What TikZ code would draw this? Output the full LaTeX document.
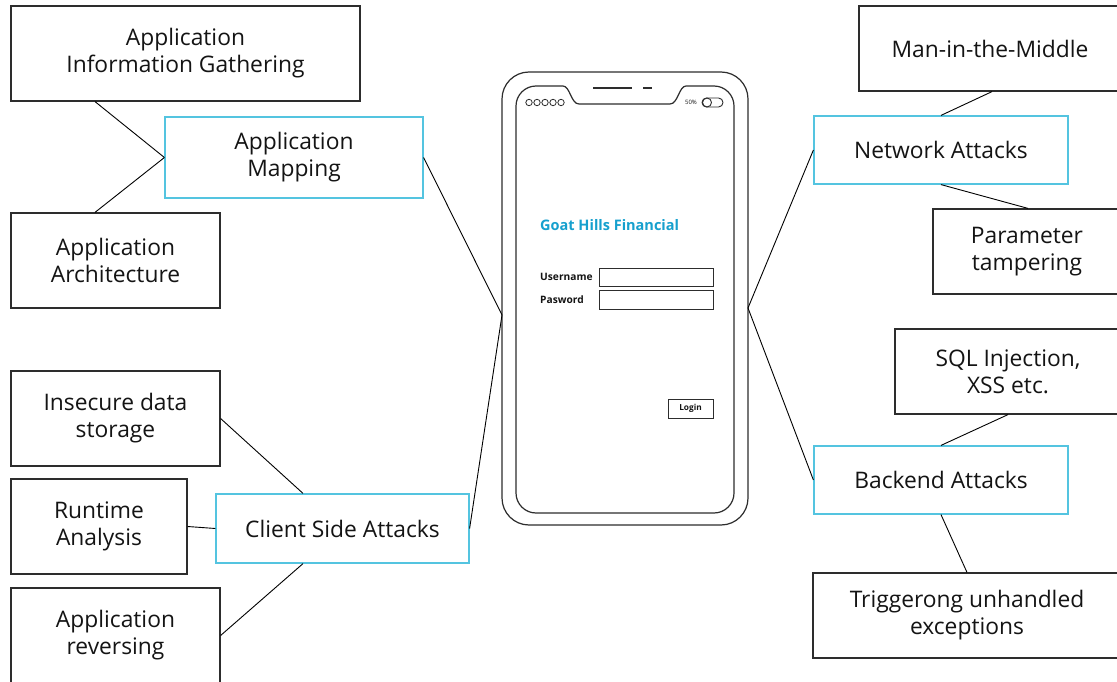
\documentclass[tikz,border=0pt]{standalone}
\usepackage{fontspec}
\setmainfont{Open Sans}
\usetikzlibrary{calc}
\definecolor{txt}{RGB}{20,20,20}
\definecolor{edge}{RGB}{45,45,45}
\definecolor{cyanbox}{RGB}{84,196,224}
\definecolor{cyantxt}{RGB}{22,160,206}
\begin{document}
\begin{tikzpicture}[x=1pt,y=-1pt,
  box/.style={draw=edge,line width=1.2pt,fill=white,text=txt,align=center,inner sep=0pt,
    font=\fontsize{22.8}{27}\selectfont},
  hub/.style={box,draw=cyanbox},
  conn/.style={draw=black,line width=0.9pt},
  phone/.style={draw=edge,line width=1.2pt},
  lbl/.style={text=txt,inner sep=0pt,font=\bfseries\fontsize{10.2}{12}\selectfont}]
\clip (0,0) rectangle (1117,682);
\fill[white] (0,0) rectangle (1117,682);

% ---------- phone ----------
\draw[phone,rounded corners=27pt] (502,72) rectangle (748,525);
\draw[phone] (516,106) .. controls (516,95) and (525,86) .. (536,86) -- (563,86)
  .. controls (570,86) and (571,104) .. (579,104) -- (670,104)
  .. controls (678,104) and (679,86) .. (686,86) -- (714,86)
  .. controls (725,86) and (734,95) .. (734,106) -- (734,493)
  .. controls (734,504) and (725,513) .. (714,513) -- (536,513)
  .. controls (525,513) and (516,504) .. (516,493) -- cycle;
\draw[phone] (593,88) -- (632,88);
\draw[phone] (643,88) -- (652,88);
\foreach \cx in {529,537,545,553,561} \draw[edge,line width=0.8pt] (\cx,102.5) circle (3.2);
\node[text=txt,inner sep=0pt,font=\fontsize{6}{7}\selectfont] (batt) at (691,102) {50\%};
\draw[edge,line width=0.9pt,rounded corners=4.5pt] (702,98) rectangle (723,107);
\draw[edge,line width=0.9pt] (707,102.5) circle (4.5);
\node[anchor=west,text=cyantxt,inner sep=0pt,font=\bfseries\fontsize{14.5}{16}\selectfont] (title) at (540,225) {Goat Hills Financial};
\node[lbl,anchor=west] (user) at (540,277) {Username};
\node[lbl,anchor=west] (pass) at (540,299.5) {Pasword};
\draw[edge,line width=1pt] (599,268) rectangle (713,286);
\draw[edge,line width=1pt] (599,290) rectangle (713,309);
\draw[edge,line width=1pt] (668,399) rectangle (713,418);
\node[lbl,font=\bfseries\fontsize{8.3}{9}\selectfont] (login) at (690.5,408.5) {Login};
\coordinate (pl) at (502,315);
\coordinate (pr) at (748,308);

% ---------- left boxes ----------
\node[box,minimum width=349pt,minimum height=95pt] (infog) at (185.5,53.5) {Application\\Information Gathering};
\node[hub,minimum width=258pt,minimum height=81pt] (mapping) at (294,157.5) {Application\\Mapping};
\node[box,minimum width=209pt,minimum height=95pt] (arch) at (115.5,260.5) {Application\\Architecture};
\node[box,minimum width=209pt,minimum height=95pt] (insecure) at (115.5,418.5) {Insecure data\\storage};
\node[box,minimum width=176pt,minimum height=95pt] (runtime) at (99,526.5) {Runtime\\Analysis};
\node[box,minimum width=209pt,minimum height=95pt] (reversing) at (115.5,635.5) {Application\\reversing};
\node[hub,minimum width=253pt,minimum height=69pt] (client) at (342.5,528.5) {Client Side Attacks};

% ---------- right boxes ----------
\node[box,minimum width=262pt,minimum height=85pt] (mitm) at (990,48.5) {Man-in-the-Middle};
\node[hub,minimum width=254pt,minimum height=68pt] (network) at (941,150) {Network Attacks};
\node[box,minimum width=188pt,minimum height=85pt] (param) at (1027,251.5) {Parameter\\tampering};
\node[box,minimum width=226pt,minimum height=85pt] (sql) at (1008,371.5) {SQL Injection,\\XSS etc.};
\node[hub,minimum width=254pt,minimum height=68pt] (backend) at (941,480) {Backend Attacks};
\node[box,minimum width=308pt,minimum height=85pt] (trig) at (967,615.5) {Triggerong unhandled\\exceptions};

% ---------- connectors ----------
\draw[conn] ([xshift=-90.5pt]infog.south) -- (mapping.west);
\draw[conn] ([xshift=-20.5pt]arch.north) -- (mapping.west);
\draw[conn] (mapping.east) -- (pl);
\draw[conn] (client.east) -- (pl);
\draw[conn] (insecure.east) -- ([xshift=-39.5pt]client.north);
\draw[conn] (runtime.east) -- (client.west);
\draw[conn] (reversing.east) -- ([xshift=-39.5pt]client.south);
\draw[conn] ([xshift=2pt]mitm.south) -- (network.north);
\draw[conn] (network.south) -- ([xshift=1pt]param.north);
\draw[conn] (sql.south) -- (backend.north);
\draw[conn] (backend.south) -- (trig.north);
\draw[conn] (pr) -- (network.west);
\draw[conn] (pr) -- (backend.west);
\end{tikzpicture}
\end{document}
